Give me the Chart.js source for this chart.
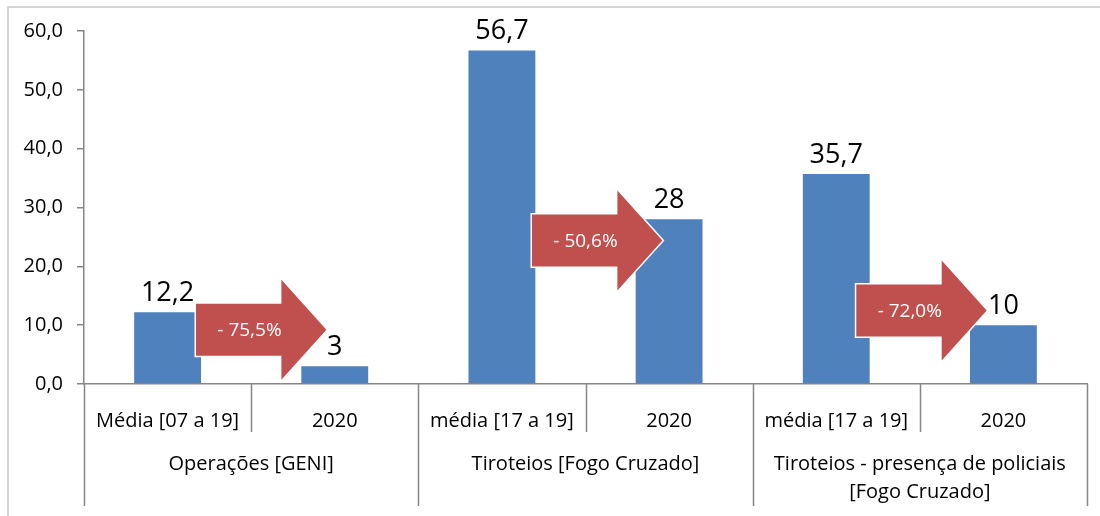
<!DOCTYPE html>
<html>
<head>
<meta charset="utf-8">
<script src="https://cdn.jsdelivr.net/npm/chart.js@4"></script>
<style>
	html, body { margin: 0; padding: 0; background: #fff; }
	#wrap { width: 1100px; height: 516px; }
</style>
</head>
<body>
<div id="wrap"><canvas id="myChart" width="1100" height="516"></canvas></div>
<script>
const categories = ["Média [07 a 19]", "2020", "média [17 a 19]", "2020", "média [17 a 19]", "2020"];
const values = [12.2, 3, 56.7, 28, 35.7, 10];
const valueLabels = ["12,2", "3", "56,7", "28", "35,7", "10"];
const groups = [["Operações [GENI]"], ["Tiroteios [Fogo Cruzado]"], ["Tiroteios - presença de policiais", "[Fogo Cruzado]"]];
const arrowFrom = [0, 2, 4];
const arrowY = [9.2, 24.4, 12.5];
const arrowShift = [0.17, 0.18, 0.12];
const arrowLabels = ["- 75,5%", "- 50,6%", "- 72,0%"];

const FONT = "'Open Sans', sans-serif";
const AXIS = "#868686";

const decor = {
	id: "decor",
	beforeDraw(chart) {
		let ctx = chart.ctx;
		ctx.save();
		ctx.strokeStyle = "#c8c8c8";
		ctx.lineWidth = 1.5;
		ctx.beginPath();
		ctx.moveTo(8, 516);
		ctx.lineTo(8, 7);
		ctx.lineTo(1100, 7);
		ctx.stroke();
		ctx.restore();
	},
	afterDatasetsDraw(chart) {
		let ctx = chart.ctx;
		let x = chart.scales.x;
		let y = chart.scales.y;
		let step = x.getPixelForValue(1) - x.getPixelForValue(0);
		let bottom = chart.chartArea.bottom;
		ctx.save();

		// value labels
		ctx.fillStyle = "#000";
		ctx.font = "27px " + FONT;
		ctx.textAlign = "center";
		ctx.textBaseline = "alphabetic";
		values.forEach((v, i) => {
			ctx.fillText(valueLabels[i], x.getPixelForValue(i), y.getPixelForValue(v) - 11);
		});

		// category dividers
		ctx.strokeStyle = AXIS;
		ctx.lineWidth = 1.5;
		for (let i = 0; i <= categories.length; i++) {
			let px = Math.round(x.getPixelForValue(0) - step / 2 + i * step) + 0.5;
			ctx.beginPath();
			ctx.moveTo(px, bottom);
			ctx.lineTo(px, i % 2 === 0 ? 506 : 432);
			ctx.stroke();
		}

		// group labels
		ctx.fillStyle = "#000";
		ctx.font = "20px " + FONT;
		ctx.textBaseline = "middle";
		groups.forEach((lines, g) => {
			let cx = (x.getPixelForValue(g * 2) + x.getPixelForValue(g * 2 + 1)) / 2;
			lines.forEach((t, k) => ctx.fillText(t, cx, 464 + k * 28));
		});

		// arrows
		arrowFrom.forEach((idx, a) => {
			let x0 = x.getPixelForValue(idx) + arrowShift[a] * step;
			let len = 0.78 * step;
			let cy = y.getPixelForValue(arrowY[a]);
			let bodyH = 26, headH = 50, headL = 45;
			let xh = x0 + len - headL;
			ctx.beginPath();
			ctx.moveTo(x0, cy - bodyH);
			ctx.lineTo(xh, cy - bodyH);
			ctx.lineTo(xh, cy - headH);
			ctx.lineTo(x0 + len, cy);
			ctx.lineTo(xh, cy + headH);
			ctx.lineTo(xh, cy + bodyH);
			ctx.lineTo(x0, cy + bodyH);
			ctx.closePath();
			ctx.fillStyle = "#C0504D";
			ctx.strokeStyle = "#fff";
			ctx.lineWidth = 3;
			ctx.stroke();
			ctx.fill();
			ctx.fillStyle = "#fff";
			ctx.font = "19px " + FONT;
			ctx.fillText(arrowLabels[a], x0 + 0.41 * len, cy + 1);
		});
		ctx.restore();
	},
};

document.addEventListener("DOMContentLoaded", () => {
	let ctx = document.getElementById("myChart").getContext("2d");
	let chart = new Chart(ctx, {
		type: "bar",
		data: {
			labels: categories,
			datasets: [
				{
					label: "Valores",
					data: values,
					backgroundColor: "#4F81BD",
					borderWidth: 0,
					categoryPercentage: 1,
					barPercentage: 0.4,
				},
			],
		},
		options: {
			responsive: false,
			animation: false,
			layout: { padding: { left: 0, top: 31, right: 13, bottom: 0 } },
			plugins: {
				legend: { display: false },
				tooltip: { enabled: false },
			},
			scales: {
				y: {
					min: 0,
					max: 60,
					afterFit: (s) => { s.width = 84; },
					ticks: {
						stepSize: 10,
						color: "#000",
						padding: 14,
						font: { family: FONT, size: 20 },
						callback: (v) => v.toFixed(1).replace(".", ","),
					},
					grid: { drawOnChartArea: false, tickLength: 7, color: AXIS, lineWidth: 1.5 },
					border: { color: AXIS, width: 1.5 },
				},
				x: {
					afterFit: (s) => { s.height = 132; },
					ticks: {
						color: "#000",
						padding: 17,
						maxRotation: 0,
						autoSkip: false,
						font: { family: FONT, size: 20 },
					},
					grid: { display: false },
					border: { color: AXIS, width: 1.5 },
				},
			},
		},
		plugins: [decor],
	});
});
</script>
</body>
</html>
